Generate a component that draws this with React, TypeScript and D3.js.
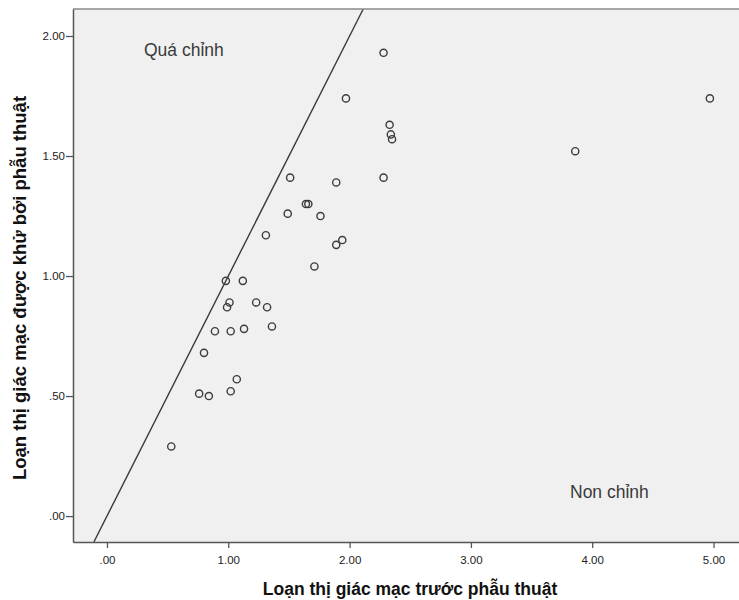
import React, { useEffect, useRef } from 'react';
import * as d3 from 'd3';

// pre-op corneal astigmatism (x) vs astigmatism removed by surgery (y)
const preOp = [
    0.98, 1.12, 1.01, 0.99, 1.23, 1.32, 0.89, 1.02, 1.13, 1.36,
    0.80, 1.07, 0.76, 0.84, 1.02, 0.53,
    1.51, 1.89, 2.28, 1.64, 1.66, 1.49, 1.76, 1.31, 1.94, 1.89, 1.71,
    2.28, 1.97, 2.33, 2.34, 2.35,
    4.97, 3.86,
];
const removed = [
    0.98, 0.98, 0.89, 0.87, 0.89, 0.87, 0.77, 0.77, 0.78, 0.79,
    0.68, 0.57, 0.51, 0.50, 0.52, 0.29,
    1.41, 1.39, 1.41, 1.30, 1.30, 1.26, 1.25, 1.17, 1.15, 1.13, 1.04,
    1.93, 1.74, 1.63, 1.59, 1.57,
    1.74, 1.52,
];
const xTicks = [0, 1, 2, 3, 4, 5];
const yTicks = [0, 0.5, 1, 1.5, 2];
const tickFormat = (d: number) => d === 0 ? '.00' : (d < 1 ? d3.format('.2f')(d).slice(1) : d3.format('.2f')(d));

const FONT = 'Arial, "Liberation Sans", sans-serif';

const App = () => {
    const svgRef = useRef<SVGSVGElement>(null);

    useEffect(() => {
        const svg = d3.select(svgRef.current);
        svg.selectAll('*').remove();

        const left = 73, right = 739, top = 9, bottom = 542;

        const x = d3.scaleLinear().domain([-0.28, 5.21]).range([left, right]);
        const y = d3.scaleLinear().domain([-0.108, 2.1125]).range([bottom, top]);

        svg.append('rect')
            .attr('x', left).attr('y', top)
            .attr('width', right - left).attr('height', bottom - top)
            .attr('fill', '#f0f0f0');

        // reference line y = x
        const lo = -0.108, hi = 2.1125;
        svg.append('line')
            .attr('x1', x(lo)).attr('y1', y(lo))
            .attr('x2', x(hi)).attr('y2', y(hi))
            .attr('stroke', '#3a3a3a').attr('stroke-width', 1.4);

        svg.append('g')
            .selectAll('circle')
            .data(preOp.map((v, i) => [v, removed[i]]))
            .enter()
            .append('circle')
            .attr('cx', d => x(d[0]))
            .attr('cy', d => y(d[1]))
            .attr('r', 3.6)
            .attr('fill', 'none')
            .attr('stroke', '#3c3c3c')
            .attr('stroke-width', 1.4);

        // top frame line
        svg.append('line')
            .attr('x1', left).attr('x2', right)
            .attr('y1', top).attr('y2', top)
            .attr('stroke', '#8a8a8a').attr('stroke-width', 1.5);

        const xAxis = svg.append('g')
            .attr('transform', `translate(0,${bottom})`)
            .call(d3.axisBottom(x).tickValues(xTicks).tickFormat(tickFormat as any).tickSize(6).tickSizeOuter(0));
        const yAxis = svg.append('g')
            .attr('transform', `translate(${left},0)`)
            .call(d3.axisLeft(y).tickValues(yTicks).tickFormat(tickFormat as any).tickSize(7).tickSizeOuter(0));

        [xAxis, yAxis].forEach(ax => {
            ax.select('.domain').attr('stroke', '#555').attr('stroke-width', 1.5);
            ax.selectAll('.tick line').attr('stroke', '#555').attr('stroke-width', 1.3);
            ax.selectAll('.tick text')
                .attr('fill', '#222')
                .style('font-family', FONT)
                .style('font-size', '11.5px');
        });
        xAxis.selectAll('.tick text').attr('y', 14).attr('dy', '0.71em');
        yAxis.selectAll('.tick text').attr('x', -8);

        svg.append('text')
            .attr('x', 144).attr('y', 56)
            .attr('fill', '#3a3a3a')
            .style('font-family', FONT).style('font-size', '17.5px')
            .text('Quá chỉnh');
        svg.append('text')
            .attr('x', 570).attr('y', 498)
            .attr('fill', '#3a3a3a')
            .style('font-family', FONT).style('font-size', '17.5px')
            .text('Non chỉnh');

        svg.append('text')
            .attr('x', 410).attr('y', 595)
            .attr('text-anchor', 'middle')
            .attr('fill', '#111')
            .style('font-family', FONT).style('font-size', '17.5px').style('font-weight', 'bold')
            .text('Loạn thị giác mạc trước phẫu thuật');
        svg.append('text')
            .attr('transform', 'translate(26,288) rotate(-90)')
            .attr('text-anchor', 'middle')
            .attr('fill', '#111')
            .style('font-family', FONT).style('font-size', '18.5px').style('font-weight', 'bold')
            .text('Loạn thị giác mạc được khử bởi phẫu thuật');
    }, []);

    return (
        <svg ref={svgRef} width={739} height={600}
             style={{ position: 'absolute', left: 0, top: 0, background: '#fff' }} />
    );
};

export default App;
